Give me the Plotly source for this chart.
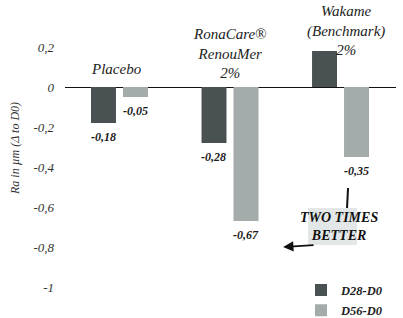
import plotly.graph_objects as go

# ---- data ----
categories = ["Placebo", "RonaCare®<br>RenouMer<br>2%", "Wakame<br>(Benchmark)<br>2%"]
d28_values = [-0.18, -0.28, 0.18]
d56_values = [-0.05, -0.67, -0.35]
d28_labels = ["-0,18", "-0,28", ""]
d56_labels = ["-0,05", "-0,67", "-0,35"]
series_names = ["D28-D0", "D56-D0"]
tick_values = [0.2, 0, -0.2, -0.4, -0.6, -0.8, -1]
tick_labels = ["0,2", "0", "-0,2", "-0,4", "-0,6", "-0,8", "-1"]
y_title = "Ra in µm (Δ to D0)"
callout = "TWO TIMES<br>BETTER"

FONT = "Liberation Serif, Times New Roman, serif"
C28 = "#4a5153"
C56 = "#a3abab"

fig = go.Figure()
fig.add_trace(go.Bar(x=categories, y=d28_values, name=series_names[0], legendgroup="g1",
                     marker=dict(color=C28, line=dict(width=0))))
fig.add_trace(go.Bar(x=categories, y=d56_values, name=series_names[1], legendgroup="g2",
                     marker=dict(color=C56, line=dict(width=0))))

ann = []
# value labels below bars
off = 0.145
for i, (lab28, lab56) in enumerate(zip(d28_labels, d56_labels)):
    for lab, val, dx in ((lab28, d28_values[i], -off), (lab56, d56_values[i], off)):
        if lab:
            ann.append(dict(x=i + dx, y=val, xref="x", yref="y", text=lab,
                            showarrow=False, yanchor="top", yshift=-5,
                            font=dict(family=FONT, size=12, color="#1a1a1a",
                                      style="italic", weight="bold")))

# category labels above the zero line
cat_pos = [(0 - 0.03, 0.09), (1 + 0.0, 0.17), (2 + 0.05, 0.285)]
for cat, (cx, cy) in zip(categories, cat_pos):
    ann.append(dict(x=cx, y=cy, xref="x", yref="y", text=cat, showarrow=False,
                    yanchor="middle", xanchor="center",
                    font=dict(family=FONT, size=15, color="#222222", style="italic")))

# y axis title
ann.append(dict(x=-0.151, y=-0.31, xref="paper", yref="y", text=y_title,
                showarrow=False, textangle=-90, xanchor="center", yanchor="middle",
                font=dict(family=FONT, size=12, color="#333333", style="italic")))

# callout text
ann.append(dict(x=1.982, y=-0.695, xref="x", yref="y", text=callout, showarrow=False,
                font=dict(family=FONT, size=14, color="#111111", style="italic", weight="bold")))

# arrow pointing left
ann.append(dict(x=1.48, y=-0.80, xref="x", yref="y", text="", showarrow=True,
                ax=32, ay=-2, arrowhead=2, arrowsize=1.3, arrowwidth=1.6,
                arrowcolor="#111111"))

shapes = [
    dict(type="rect", xref="x", yref="y", x0=1.706, x1=2.149, y0=-0.605, y1=-0.79,
         fillcolor="#e3e7e7", line=dict(width=0), layer="below"),
    dict(type="line", xref="x", yref="y", x0=2.068, x1=2.059, y0=-0.505, y1=-0.605,
         line=dict(color="#111111", width=2)),
]

fig.update_layout(
    width=403, height=318,
    margin=dict(l=65, r=7, t=27, b=21, autoexpand=False),
    paper_bgcolor="white", plot_bgcolor="white",
    barmode="group", bargap=0.421, bargroupgap=0.22,
    showlegend=True,
    legend=dict(x=0.713, y=0.08, xanchor="left", yanchor="top",
                bgcolor="rgba(0,0,0,0)", traceorder="grouped", tracegroupgap=1,
                itemwidth=30,
                font=dict(family=FONT, size=12.5, color="#222222",
                          style="italic", weight="bold")),
    xaxis=dict(range=[-0.493, 2.502], showticklabels=False, showgrid=False,
               zeroline=False, showline=False, ticks=""),
    yaxis=dict(range=[-1.05, 0.3], tickvals=tick_values, ticktext=tick_labels,
               showgrid=False, zeroline=True, zerolinecolor="#111111", zerolinewidth=1,
               showline=False, ticks="", ticklabelstandoff=10,
               tickfont=dict(family=FONT, size=13, color="#333333", style="italic")),
    annotations=ann,
    shapes=shapes,
)

fig.write_html("out.html", config={"displayModeBar": False},
               post_script="document.body.style.margin='0';")
